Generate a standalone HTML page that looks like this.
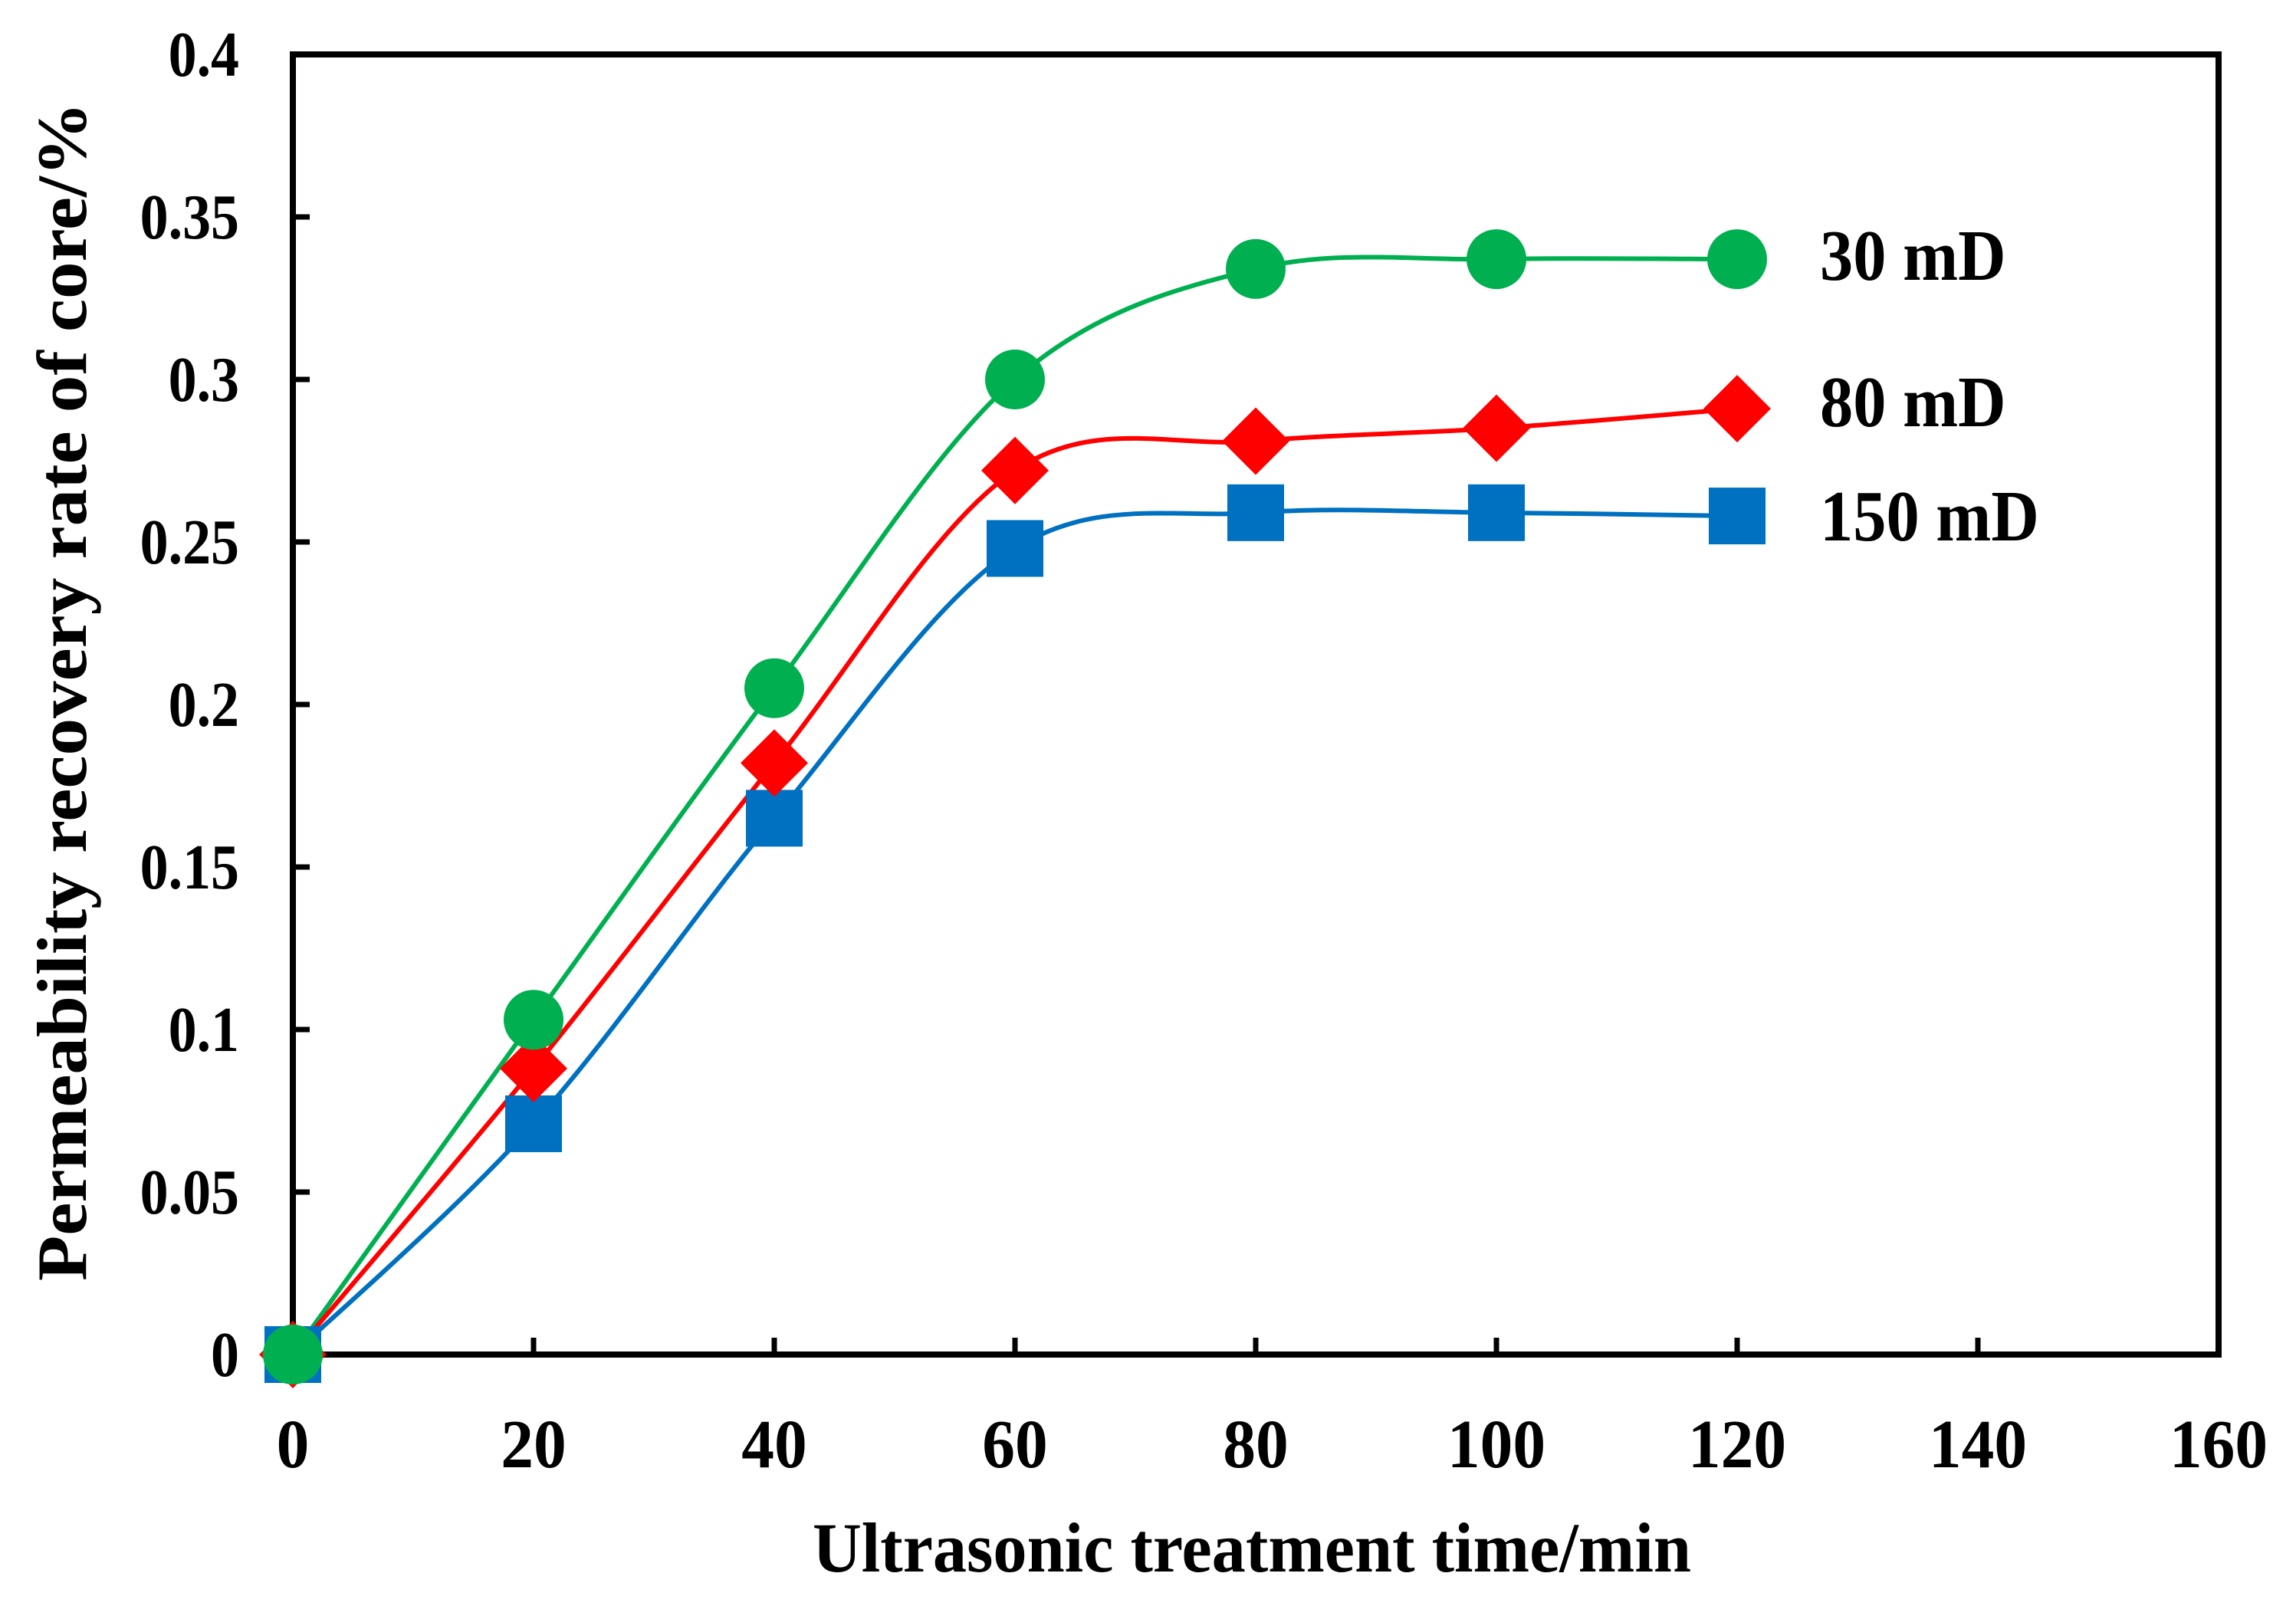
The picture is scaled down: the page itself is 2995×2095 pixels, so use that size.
<!DOCTYPE html>
<html><head><meta charset="utf-8"><style>
html,body{margin:0;padding:0;background:#fff;}
svg text{font-family:"Liberation Serif",serif;font-weight:bold;fill:#000;}
</style></head><body>
<svg id="chart" width="2995" height="2090" viewBox="0 0 2995 2090" xmlns="http://www.w3.org/2000/svg">
</svg>
<script>
const categories = [0, 20, 40, 60, 80, 100, 120];
const series30 = [0, 0.103, 0.205, 0.300, 0.334, 0.337, 0.337];
const series80 = [0, 0.088, 0.182, 0.272, 0.281, 0.285, 0.291];
const series150 = [0, 0.071, 0.165, 0.248, 0.259, 0.259, 0.258];
const seriesNames = ["30 mD", "80 mD", "150 mD"];
const xTicks = [0, 20, 40, 60, 80, 100, 120, 140, 160];
const yTicks = [0, 0.05, 0.1, 0.15, 0.2, 0.25, 0.3, 0.35, 0.4];
const yTickLabels = ["0", "0.05", "0.1", "0.15", "0.2", "0.25", "0.3", "0.35", "0.4"];

const L = 382, R = 2894, T = 71, B = 1767;
const xs = v => L + (v - 0) / 160 * (R - L);
const ys = v => B - v / 0.4 * (B - T);
const svg = document.getElementById('chart');
const NS = 'http://www.w3.org/2000/svg';
function mk(tag, attrs, parent) {
  const e = document.createElementNS(NS, tag);
  for (const k in attrs) e.setAttribute(k, attrs[k]);
  (parent || svg).appendChild(e);
  return e;
}
const frame = mk('rect', {x: L, y: T, width: R - L, height: B - T, fill: 'none', stroke: '#000', 'stroke-width': 8});


xTicks.forEach(v => {
  const t = mk('line', {x1: xs(v), x2: xs(v), y1: B, y2: B - 22, stroke: '#000', 'stroke-width': 7});
  
  
  const lb = mk('text', {x: 0, y: 0, 'font-size': 90, 'text-anchor': 'middle', transform: 'translate(' + xs(v) + ',1914) scale(0.95,1)'});
  lb.textContent = String(v);
  
  
});
yTicks.forEach((v, i) => {
  const t = mk('line', {x1: L, x2: L + 22, y1: ys(v), y2: ys(v), stroke: '#000', 'stroke-width': 7});
  
  
  const lb = mk('text', {x: 0, y: 0, 'font-size': 84, 'text-anchor': 'end', transform: 'translate(312,' + (ys(v) + 28) + ') scale(0.88,1)'});
  lb.textContent = yTickLabels[i];
  
  
});
const xt = mk('text', {x: 1633, y: 2050, 'font-size': 92, 'text-anchor': 'middle', textLength: 1146, lengthAdjust: 'spacingAndGlyphs'});
xt.textContent = 'Ultrasonic treatment time/min';


const yt = mk('text', {x: 0, y: 0, 'font-size': 92, 'text-anchor': 'middle', textLength: 1538, lengthAdjust: 'spacingAndGlyphs', transform: 'translate(112,902) rotate(-90)'});
yt.textContent = 'Permeability recovery rate of core/%';



function smoothPath(pts) {
  let d = 'M' + pts[0][0] + ',' + pts[0][1];
  for (let i = 0; i < pts.length - 1; i++) {
    const p0 = pts[Math.max(0, i - 1)], p1 = pts[i], p2 = pts[i + 1], p3 = pts[Math.min(pts.length - 1, i + 2)];
    const k = 1 / 6;
    const c1 = [p1[0] + (p2[0] - p0[0]) * k, p1[1] + (p2[1] - p0[1]) * k];
    const c2 = [p2[0] - (p3[0] - p1[0]) * k, p2[1] - (p3[1] - p1[1]) * k];
    d += ' C' + c1 + ' ' + c2 + ' ' + p2;
  }
  return d;
}
const all = [
  {vals: series30, color: '#00b050', shape: 'circle', key: '30'},
  {vals: series80, color: '#ff0000', shape: 'diamond', key: '80'},
  {vals: series150, color: '#0070c0', shape: 'square', key: '150'}
];
const legendY = [334, 525, 674];
all.forEach(s => {
  const pts = categories.map((c, i) => [xs(c), ys(s.vals[i])]);
  const p = mk('path', {d: smoothPath(pts), fill: 'none', stroke: s.color, 'stroke-width': 6});
  
  
});
all.slice().reverse().forEach(s => {
  categories.forEach((c, i) => {
    const x = xs(c), y = ys(s.vals[i]);
    let m;
    if (s.shape === 'circle') m = mk('circle', {cx: x, cy: y, r: 39, fill: s.color});
    else if (s.shape === 'diamond') m = mk('polygon', {points: [x, y - 44, x + 44, y, x, y + 44, x - 44, y].join(','), fill: s.color});
    else m = mk('rect', {x: x - 37, y: y - 37, width: 74, height: 74, fill: s.color});
    
    
  });
});
all.forEach((s, i) => {
  const t = mk('text', {x: 0, y: 0, 'font-size': 94, transform: 'translate(2374,' + (legendY[i] + 31) + ') scale(0.92,1)'});
  t.textContent = seriesNames[i];
  
  
});
</script>
</body></html>
